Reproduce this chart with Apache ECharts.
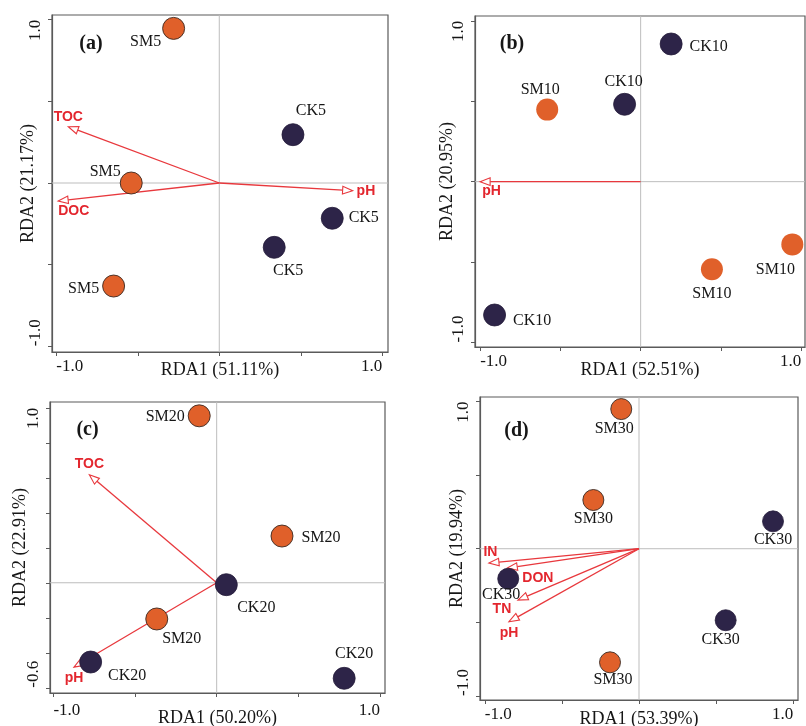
<!DOCTYPE html>
<html><head><meta charset="utf-8">
<script src="https://cdn.jsdelivr.net/npm/echarts@6/dist/echarts.min.js"></script>
<style>html,body{margin:0;padding:0;background:#fff}#c{width:806px;height:726px}</style>
</head><body><div id="c"></div>
<script>
// ---------------- DATA ----------------
const panelTags = ['(a)', '(b)', '(c)', '(d)'];
const xAxisNames = ['RDA1 (51.11%)', 'RDA1 (52.51%)', 'RDA1 (50.20%)', 'RDA1 (53.39%)'];
const yAxisNames = ['RDA2 (21.17%)', 'RDA2 (20.95%)', 'RDA2 (22.91%)', 'RDA2 (19.94%)'];

const xTickValues = [-1, -0.5, 0, 0.5, 1];
const xTickLabels = [-1, 1];
const yTickValuesStd = [-1, -0.5, 0, 0.5, 1];
const yTickValuesC = [-0.6, -0.4, -0.2, 0, 0.2, 0.4, 0.6, 0.8, 1.0];
const yTickLabelsStd = [-1, 1];
const yTickLabelsC = [-0.6, 1];

// (a) 5 cm
const aSites = ['SM5', 'CK5', 'SM5', 'CK5', 'CK5', 'SM5'];
const aRDA1 = [-0.28, 0.452, -0.54, 0.693, 0.337, -0.648];
const aRDA2 = [0.947, 0.296, 0.0, -0.216, -0.394, -0.631];
const aEnv = ['TOC', 'DOC', 'pH'];
const aEnvRDA1 = [-0.926, -0.988, 0.818];
const aEnvRDA2 = [0.345, -0.11, -0.047];

// (b) 10 cm
const bSites = ['CK10', 'CK10', 'SM10', 'SM10', 'SM10', 'CK10'];
const bRDA1 = [0.19, -0.10, -0.582, 0.945, 0.444, -0.91];
const bRDA2 = [0.856, 0.481, 0.448, -0.39, -0.545, -0.829];
const bEnv = ['pH'];
const bEnvRDA1 = [-1.0];
const bEnvRDA2 = [0.0];

// (c) 20 cm
const cSites = ['SM20', 'SM20', 'CK20', 'SM20', 'CK20', 'CK20'];
const cRDA1 = [-0.107, 0.40, 0.059, -0.367, -0.772, 0.781];
const cRDA2 = [0.954, 0.267, -0.011, -0.207, -0.453, -0.546];
const cEnv = ['TOC', 'pH'];
const cEnvRDA1 = [-0.78, -0.874];
const cEnvRDA2 = [0.617, -0.482];

// (d) 30 cm
const dSites = ['SM30', 'SM30', 'CK30', 'CK30', 'CK30', 'SM30'];
const dRDA1 = [-0.115, -0.296, 0.869, -0.848, 0.562, -0.188];
const dRDA2 = [0.949, 0.331, 0.186, -0.204, -0.486, -0.772];
const dEnv = ['IN', 'DON', 'TN', 'pH'];
const dEnvRDA1 = [-0.973, -0.854, -0.785, -0.843];
const dEnvRDA2 = [-0.097, -0.131, -0.349, -0.496];

// ---------------- LAYOUT / STYLE ----------------
const SERIF = '"Liberation Serif", "Times New Roman", serif';
const SANS = '"Liberation Sans", Arial, sans-serif';
const ORANGE = '#E0602A';
const NAVY = '#2D2448';
const RED = '#E8383D';
const RED_TXT = '#E3262E';
const TXT = '#161616';

const layouts = [
  { left: 52, top: 15, width: 336, height: 337, xMin: -1.026, xMax: 1.035, yMin: -1.035, yMax: 1.029, xGap: 9, xMargin: 6, yGap: 15, size: 22, orangeBorder: true, tag: [91, 44] },
  { left: 475, top: 16, width: 330, height: 331, xMin: -1.032, xMax: 1.024, yMin: -1.028, yMax: 1.03, xGap: 14, xMargin: 6, yGap: 19, size: 22, orangeBorder: false, tag: [512, 44] },
  { left: 50, top: 402, width: 335, height: 291, xMin: -1.021, xMax: 1.031, yMin: -0.630, yMax: 1.033, xGap: 16, xMargin: 9, yGap: 21, size: 22, orangeBorder: true, tag: [87.5, 430] },
  { left: 480, top: 397, width: 318, height: 303, xMin: -1.031, xMax: 1.031, yMin: -1.028, yMax: 1.031, xGap: 10, xMargin: 6, yGap: 14, size: 21, orangeBorder: true, tag: [516.5, 430.5] }
];

// label placement of site names: [position, dx, dy]
const siteLabelPlace = [
  [['left', 4, 13], ['top', 18, 1], ['left', 6, -11], ['right', 0, 0], ['bottom', 14, -1], ['left', 2, 3]],
  [['right', 2, 3], ['top', -1, 2], ['top', -7, 4], ['bottom', -17, 1], ['bottom', 0, 0], ['right', 2, 6]],
  [['left', 2, 1], ['right', 3, 2], ['bottom', 30, -1], ['bottom', 25, -5], ['right', 1, 14], ['top', 10, 0]],
  [['bottom', -7, -4], ['bottom', 0, -5], ['bottom', 0, -5], ['bottom', -7, -8], ['bottom', -5, -4], ['bottom', 3, -6]]
];
// env label placement relative to arrow tip: [align, dx, dy]
const envLabelPlace = [
  [['center', 0, -10], ['left', 0, 10], ['left', 4, 0]],
  [['left', 2, 9.5]],
  [['center', 0, -11], ['center', 0, 11]],
  [['center', 1.5, -11], ['left', 15, 10], ['center', -16, 9], ['center', 0, 11]]
];

const panels = [
  { sites: aSites, x: aRDA1, y: aRDA2, env: aEnv, ex: aEnvRDA1, ey: aEnvRDA2, yTicks: yTickValuesStd, yLabels: yTickLabelsStd },
  { sites: bSites, x: bRDA1, y: bRDA2, env: bEnv, ex: bEnvRDA1, ey: bEnvRDA2, yTicks: yTickValuesStd, yLabels: yTickLabelsStd },
  { sites: cSites, x: cRDA1, y: cRDA2, env: cEnv, ex: cEnvRDA1, ey: cEnvRDA2, yTicks: yTickValuesC, yLabels: yTickLabelsC },
  { sites: dSites, x: dRDA1, y: dRDA2, env: dEnv, ex: dEnvRDA1, ey: dEnvRDA2, yTicks: yTickValuesStd, yLabels: yTickLabelsStd }
];

const grid = [], xAxis = [], yAxis = [], series = [], graphic = [];
const fmt = v => Number(v).toFixed(1);

panels.forEach((p, i) => {
  const L = layouts[i];
  grid.push({ left: L.left, top: L.top, width: L.width, height: L.height, show: true, borderColor: '#5a5a5a', borderWidth: 1.2, containLabel: false, outerBoundsMode: 'none' });
  const axisCommon = {
    gridIndex: i, type: 'value',
    nameLocation: 'middle', nameMoveOverlap: false,
    nameTextStyle: { fontFamily: SERIF, fontSize: 18, color: TXT },
    axisLine: { show: true, onZero: false, lineStyle: { color: '#5a5a5a', width: 1.2 } },
    splitLine: { show: false }
  };
  xAxis.push(Object.assign({}, axisCommon, {
    min: L.xMin, max: L.xMax, name: xAxisNames[i], nameGap: L.xGap,
    axisTick: { show: true, inside: false, length: 4, customValues: xTickValues, lineStyle: { color: '#5a5a5a' } },
    axisLabel: { customValues: xTickLabels, formatter: fmt, fontFamily: SERIF, fontSize: 17, color: TXT, margin: L.xMargin, alignMinLabel: 'left', alignMaxLabel: 'right' }
  }));
  yAxis.push(Object.assign({}, axisCommon, {
    min: L.yMin, max: L.yMax, name: yAxisNames[i], nameGap: L.yGap,
    axisTick: { show: true, inside: false, length: 4, customValues: p.yTicks, lineStyle: { color: '#5a5a5a' } },
    axisLabel: { customValues: p.yLabels, formatter: fmt, rotate: 90, fontFamily: SERIF, fontSize: 17, color: TXT, margin: 8, alignMinLabel: 'left', alignMaxLabel: 'right' }
  }));

  // zero reference lines
  series.push({
    type: 'custom', xAxisIndex: i, yAxisIndex: i, z: 1, silent: true,
    data: [[0, 0]],
    renderItem: (params, api) => {
      const cs = params.coordSys;
      const o = api.coord([0, 0]);
      return { type: 'group', children: [
        { type: 'line', shape: { x1: o[0], y1: cs.y, x2: o[0], y2: cs.y + cs.height }, style: { stroke: '#bdbdbd', lineWidth: 1 } },
        { type: 'line', shape: { x1: cs.x, y1: o[1], x2: cs.x + cs.width, y2: o[1] }, style: { stroke: '#bdbdbd', lineWidth: 1 } }
      ] };
    }
  });

  // environmental arrows
  series.push({
    type: 'custom', xAxisIndex: i, yAxisIndex: i, z: 2, silent: true,
    data: p.env.map((n, k) => [p.ex[k], p.ey[k], k]),
    renderItem: (params, api) => {
      const k = api.value(2);
      const o = api.coord([0, 0]);
      const t = api.coord([api.value(0), api.value(1)]);
      const ang = Math.atan2(t[1] - o[1], t[0] - o[0]);
      const c = Math.cos(ang), s = Math.sin(ang);
      const HL = 10, HW = 3.8;
      const bx = t[0] - HL * c, by = t[1] - HL * s;
      const pl = envLabelPlace[i][k];
      return { type: 'group', children: [
        { type: 'line', shape: { x1: o[0], y1: o[1], x2: bx, y2: by }, style: { stroke: RED, lineWidth: 1.3 } },
        { type: 'polygon', shape: { points: [[t[0], t[1]], [bx - HW * s, by + HW * c], [bx + HW * s, by - HW * c]] }, style: { fill: '#fff', stroke: RED, lineWidth: 1.1 } },
        { type: 'text', x: t[0] + pl[1], y: t[1] + pl[2], style: { text: p.env[k], fill: RED_TXT, font: 'bold 14px ' + SANS, align: pl[0], verticalAlign: 'middle' } }
      ] };
    }
  });

  // site scores
  series.push({
    type: 'scatter', xAxisIndex: i, yAxisIndex: i, z: 3, symbol: 'circle', symbolSize: L.size,
    data: p.sites.map((n, k) => {
      const isSM = n.indexOf('SM') === 0;
      const pl = siteLabelPlace[i][k];
      return {
        name: n, value: [p.x[k], p.y[k]],
        itemStyle: isSM
          ? { color: ORANGE, opacity: 1, borderColor: L.orangeBorder ? '#3b2a22' : ORANGE, borderWidth: L.orangeBorder ? 0.9 : 0 }
          : { color: NAVY, opacity: 1, borderColor: '#241c3a', borderWidth: 0.8 },
        label: { show: true, formatter: n, position: pl[0], offset: [pl[1], pl[2]], fontFamily: SERIF, fontSize: 16, color: TXT }
      };
    })
  });

  graphic.push({ type: 'text', x: L.tag[0], y: L.tag[1], z: 10,
    style: { text: panelTags[i], font: 'bold 20px ' + SERIF, fill: TXT, align: 'center', verticalAlign: 'middle' } });
});

const chart = echarts.init(document.getElementById('c'), null, { renderer: 'canvas' });
chart.setOption({ animation: false, backgroundColor: '#fff', grid, xAxis, yAxis, series, graphic });
</script></body></html>
